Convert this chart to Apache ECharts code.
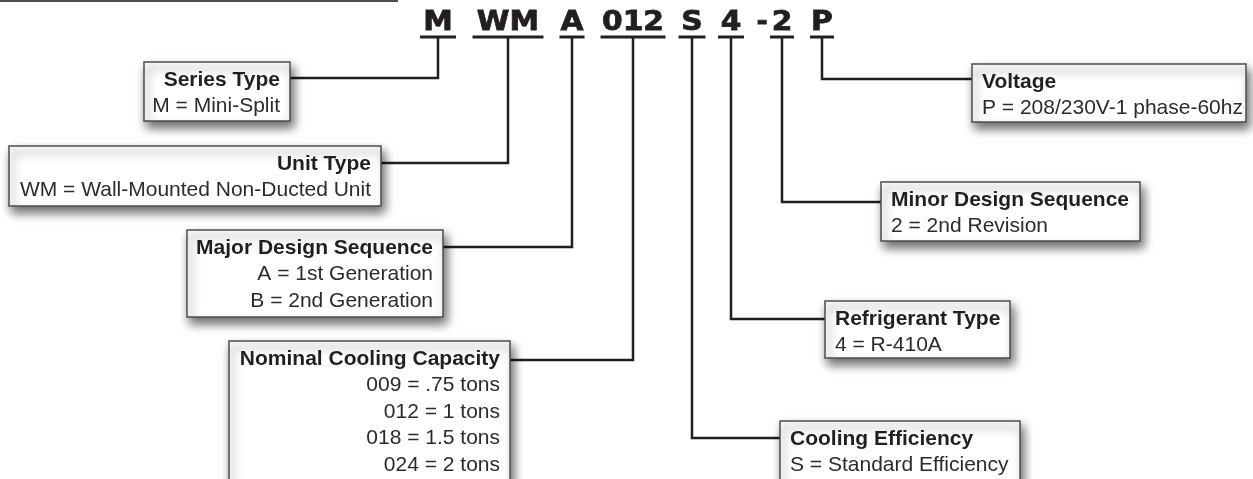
<!DOCTYPE html>
<html>
<head>
<meta charset="utf-8">
<script src="https://cdn.jsdelivr.net/npm/echarts@6/dist/echarts.min.js"></script>
<style>
  html, body { margin: 0; padding: 0; background: #fff; }
  #chart { width: 1253px; height: 479px; }
</style>
</head>
<body>
<div id="chart"></div>
<script>
// model number segments and their meaning
const codeParts = ['M', 'WM', 'A', '012', 'S', '4', '2', 'P'];
const codeSeparators = ['-'];
const fieldTitles = ['Series Type', 'Unit Type', 'Major Design Sequence', 'Nominal Cooling Capacity',
  'Cooling Efficiency', 'Refrigerant Type', 'Minor Design Sequence', 'Voltage'];
const fieldValues = [
  ['M = Mini-Split'],
  ['WM = Wall-Mounted Non-Ducted Unit'],
  ['A = 1st Generation', 'B = 2nd Generation'],
  ['009 = .75 tons', '012 = 1 tons', '018 = 1.5 tons', '024 = 2 tons'],
  ['S = Standard Efficiency'],
  ['4 = R-410A'],
  ['2 = 2nd Revision'],
  ['P = 208/230V-1 phase-60hz']
];

// layout (pixel space of the hidden axes)
const codeCenterX = [438, 508, 572, 633, 692, 731, 782, 822];
const codeUnderlineW = [36, 71, 25, 65, 27, 26, 24, 24];
const separatorX = [762];
const boxRect = [[144, 62, 290, 121], [9, 146, 381, 206], [187, 230, 443, 317], [229, 341, 510, 505],
  [780, 421, 1020, 505], [825, 301, 1010, 358], [881, 182, 1140, 241], [972, 64, 1246, 122]];
const boxSide = ['right', 'right', 'right', 'right', 'left', 'left', 'left', 'left'];
const connectorY = [78, 163, 247, 360, 438, 319, 202, 79];

const INK = '#231f20';
const LETTER_Y = 36, RULE_Y = 37;
const FONT = 'Liberation Sans';

const chart = echarts.init(document.getElementById('chart'));

function codeText(x, y, t, sx) {
  return {
    type: 'text', x: x, y: y, scaleX: sx,
    style: { x: 0, y: 0, text: t, align: 'center', verticalAlign: 'bottom',
      fill: INK, stroke: INK, lineWidth: 0.8,
      fontFamily: 'DejaVu Sans', fontWeight: 'bold', fontSize: 27 }
  };
}

function renderCode(params, api) {
  const i = params.dataIndex;
  const cx = codeCenterX[i], w = codeUnderlineW[i];
  const p = api.coord([cx, LETTER_Y]);
  const a = api.coord([cx - w / 2, RULE_Y]);
  const b = api.coord([cx + w / 2, RULE_Y]);
  return {
    type: 'group',
    children: [
      codeText(p[0], p[1], codeParts[i], 1.1),
      {
        type: 'line', shape: { x1: a[0], y1: a[1], x2: b[0], y2: b[1] },
        style: { stroke: INK, lineWidth: 3 }
      }
    ]
  };
}

function renderSeparator(params, api) {
  const i = params.dataIndex;
  const p = api.coord([separatorX[i], LETTER_Y]);
  return codeText(p[0], p[1], codeSeparators[i], 1);
}

function renderField(params, api) {
  const i = params.dataIndex;
  const r = boxRect[i];
  const side = boxSide[i];
  const tl = api.coord([r[0], r[1]]);
  const br = api.coord([r[2], r[3]]);
  const edgeX = side === 'right' ? r[2] : r[0];
  const pts = [
    api.coord([edgeX, connectorY[i]]),
    api.coord([codeCenterX[i], connectorY[i]]),
    api.coord([codeCenterX[i], RULE_Y])
  ];
  const children = [
    {
      type: 'polyline', shape: { points: pts },
      style: { stroke: INK, lineWidth: 2.5, fill: null, lineJoin: 'miter' }
    },
    {
      type: 'rect',
      shape: { x: tl[0], y: tl[1], width: br[0] - tl[0], height: br[1] - tl[1] },
      style: { fill: '#fff', stroke: '#4d4d4d', lineWidth: 1.5,
        shadowBlur: 10, shadowColor: 'rgba(0,0,0,0.6)', shadowOffsetX: 3, shadowOffsetY: 6 }
    }
  ];
  const tx = side === 'right' ? br[0] - 10 : tl[0] + 10;
  const lines = [fieldTitles[i]].concat(fieldValues[i]);
  lines.forEach(function (t, k) {
    const y = api.coord([0, r[1] + 18 + k * 26.5])[1];
    children.push({
      type: 'text',
      style: { x: tx, y: y, text: t, align: side === 'right' ? 'right' : 'left', verticalAlign: 'middle',
        fill: k === 0 ? INK : '#2b2b2b', fontFamily: FONT, fontWeight: k === 0 ? 'bold' : 'normal',
        fontSize: 21 }
    });
  });
  return { type: 'group', children: children };
}

const option = {
  animation: false,
  grid: { left: 0, right: 0, top: 0, bottom: 0 },
  xAxis: { type: 'value', min: 0, max: 1253, show: false },
  yAxis: { type: 'value', min: 0, max: 479, inverse: true, show: false },
  series: [
    {
      // thin rule at the top left
      type: 'lines', coordinateSystem: 'cartesian2d', silent: true,
      lineStyle: { color: '#4d4d4d', width: 2, opacity: 1 },
      data: [{ coords: [[0, 1], [398, 1]] }]
    },
    {
      type: 'custom', renderItem: renderField, silent: true, clip: false,
      data: fieldTitles.map(function (t, i) { return [codeCenterX[i], connectorY[i]]; })
    },
    {
      type: 'custom', renderItem: renderCode, silent: true, clip: false,
      data: codeParts.map(function (c, i) { return [codeCenterX[i], LETTER_Y]; })
    },
    {
      type: 'custom', renderItem: renderSeparator, silent: true, clip: false,
      data: codeSeparators.map(function (c, i) { return [separatorX[i], LETTER_Y]; })
    }
  ]
};

chart.setOption(option);
</script>
</body>
</html>
